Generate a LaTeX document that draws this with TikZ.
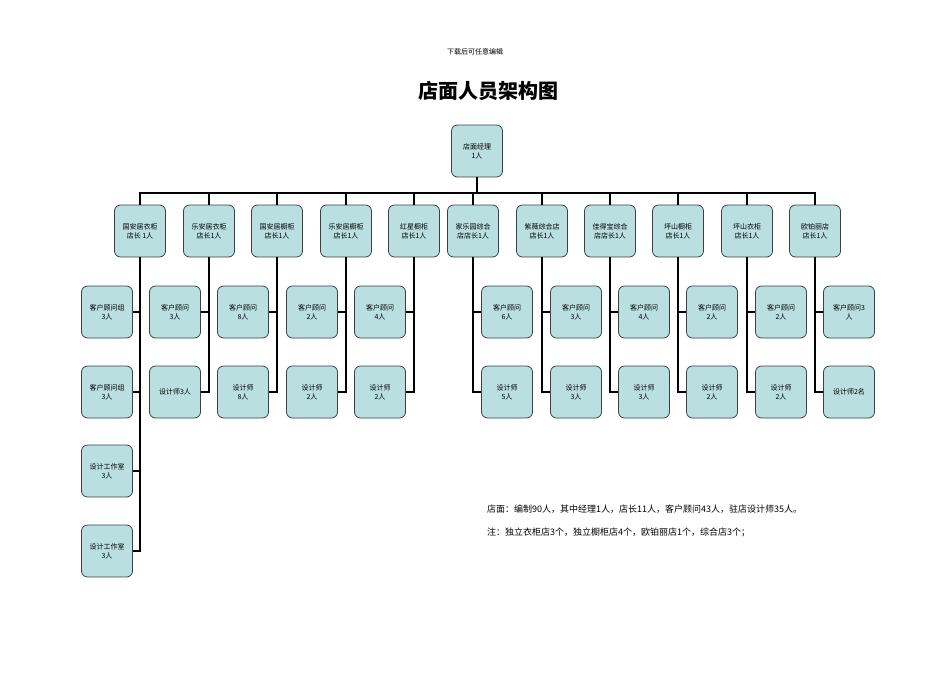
\documentclass[tikz,border=0pt]{standalone}
\usepackage{fontspec}
\setmainfont{Noto Sans CJK SC}
\begin{document}
\begin{tikzpicture}[x=1pt,y=-1pt,
  bx/.style={draw=black!75,line width=0.8pt,fill={rgb,255:red,185;green,223;blue,224},rounded corners=6pt,minimum width=51pt,minimum height=52pt,inner sep=1pt,align=center,font=\fontsize{7}{9}\selectfont},
  ln/.style={line width=2.4pt,black}]
\useasboundingbox (0,0) rectangle (950,672);
\node at (475,52) {\fontsize{7}{8}\selectfont 下载后可任意编辑};
\node at (488,91) {\fontsize{20}{22}\selectfont\bfseries 店面人员架构图};
\node[bx] (top) at (477,151) {店面经理\\1人};
\coordinate (bus) at (477,193);
\foreach \n/\x/\t in {s1/140/{国安居衣柜\\店长 1人},s2/209/{乐安居衣柜\\店长1人},s3/277/{国安居橱柜\\店长1人},s4/346/{乐安居橱柜\\店长1人},s5/414/{红星橱柜\\店长1人},s6/473/{家乐园综合\\店店长1人},s7/542/{紫薇综合店\\店长1人},s8/610/{佳得宝综合\\店店长1人},s9/678/{坪山橱柜\\店长1人},s10/747/{坪山衣柜\\店长1人},s11/815/{欧铂丽店\\店长1人}}
  {\node[bx] (\n) at (\x,231) {\t};}
\draw[ln] (top.south) -- (bus);
\draw[ln] (s1.north) |- (bus) -| (s11.north);
\foreach \n in {s2,s3,s4,s5,s6,s7,s8,s9,s10} {\draw[ln] (\n.north) -- (\n.north |- bus);}
% store 1
\node[bx] (a1) at (107,312) {客户顾问组\\3人};
\node[bx] (a2) at (107,392) {客户顾问组\\3人};
\node[bx] (a3) at (107,471) {设计工作室\\3人};
\node[bx] (a4) at (107,551) {设计工作室\\3人};
\draw[ln] (s1.south) |- (a4.east);
\foreach \c in {a1,a2,a3} {\draw[ln] (\c.east) -- (\c.east -| s1);}
% left stores
\foreach \s/\x/\p/\q in {s2/175/{客户顾问\\3人}/{设计师3人},s3/243/{客户顾问\\8人}/{设计师\\8人},s4/312/{客户顾问\\2人}/{设计师\\2人},s5/380/{客户顾问\\4人}/{设计师\\2人}}{
  \node[bx] (\s p) at (\x,312) {\p};
  \node[bx] (\s q) at (\x,392) {\q};
  \draw[ln] (\s.south) |- (\s q.east);
  \draw[ln] (\s p.east) -- (\s p.east -| \s);}
% right stores
\foreach \s/\x/\p/\q in {s6/507/{客户顾问\\6人}/{设计师\\5人},s7/576/{客户顾问\\3人}/{设计师\\3人},s8/644/{客户顾问\\4人}/{设计师\\3人},s9/712/{客户顾问\\2人}/{设计师\\2人},s10/781/{客户顾问\\2人}/{设计师\\2人},s11/849/{客户顾问3\\人}/{设计师2名}}{
  \node[bx] (\s p) at (\x,312) {\p};
  \node[bx] (\s q) at (\x,392) {\q};
  \draw[ln] (\s.south) |- (\s q.west);
  \draw[ln] (\s p.west) -- (\s p.west -| \s);}
\node[anchor=north west,text width=390pt,font=\fontsize{9}{23}\selectfont,inner sep=0pt] (note) at (487,505) {店面：编制90人，其中经理1人，店长11人，客户顾问43人，驻店设计师35人。\\注：独立衣柜店3个，独立橱柜店4个，欧铂丽店1个，综合店3个；};
\end{tikzpicture}
\end{document}
